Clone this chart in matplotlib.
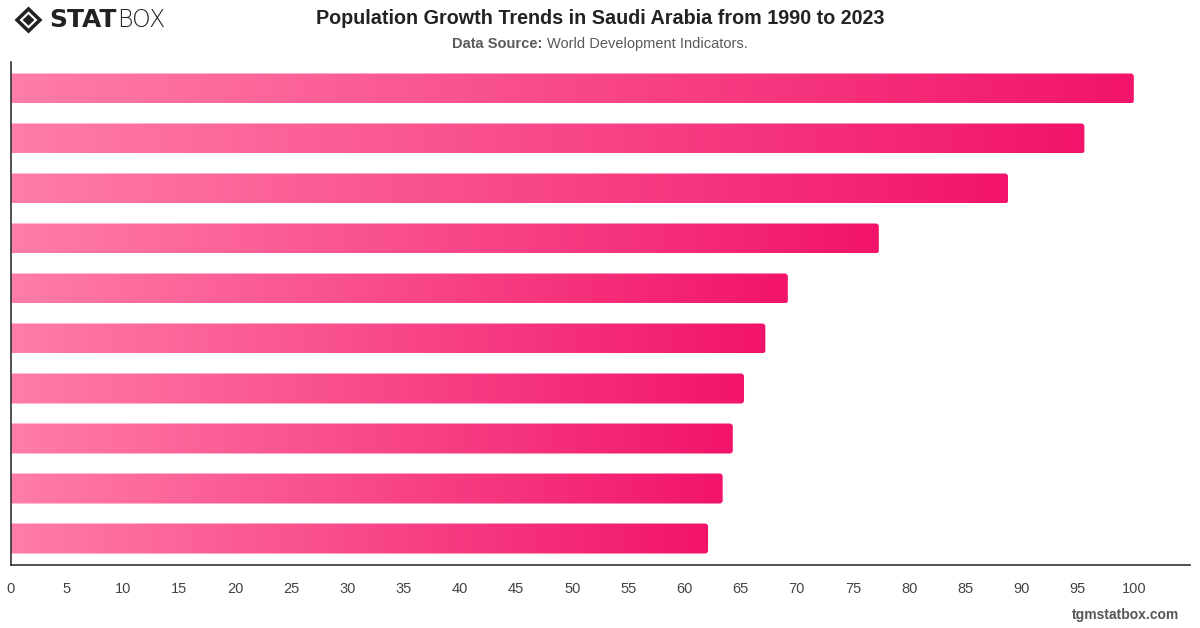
import numpy as np
import matplotlib
matplotlib.use("Agg")
import matplotlib.pyplot as plt
from matplotlib.colors import LinearSegmentedColormap
from matplotlib.patches import FancyBboxPatch, Polygon

# ---- data ----
categories = ["2023", "2022", "2021", "2020", "2019", "2018", "2017", "2016", "2015", "2014"]
values = [100.0, 95.6, 88.8, 77.3, 69.2, 67.2, 65.3, 64.3, 63.4, 62.1]
xticks = list(range(0, 101, 5))

title = "Population Growth Trends in Saudi Arabia from 1990 to 2023"

plt.rcParams['font.family'] = ['Liberation Sans', 'DejaVu Sans']

fig = plt.figure(figsize=(12, 6.28), dpi=100)
ax = fig.add_axes([0.00875, 0.1003, 0.9829, 0.801])

cmap = LinearSegmentedColormap.from_list("pk", ["#FF7DA9", "#F2146A"])
grad = np.linspace(0, 1, 256).reshape(1, -1)

ypos = np.arange(len(values))
bars = ax.barh(ypos, values, height=0.6, color="none", edgecolor="none")

ax.set_xlim(0, 105)
ax.set_ylim(len(values) - 0.5 + 0.03, -0.5 - 0.03)

px_x = 1179.5 / 105.0
px_y = 503.0 / 10.06
for b in bars:
    x0, y0 = b.get_x(), b.get_y()
    w, h = b.get_width(), b.get_height()
    r = 3.0 / px_x
    patch = FancyBboxPatch((x0 - r, y0), w + r, h,
                           boxstyle=f"round,pad=0,rounding_size={r}",
                           mutation_aspect=px_x / px_y,
                           facecolor="none", edgecolor="none")
    ax.add_patch(patch)
    im = ax.imshow(grad, cmap=cmap, aspect="auto",
                   extent=[x0, x0 + w, y0 + h, y0], zorder=2)
    im.set_clip_path(patch)

ax.set_xlim(0, 105)
ax.set_ylim(len(values) - 0.5 + 0.03, -0.5 - 0.03)

ax.set_xticks(xticks)
ax.set_xticklabels([str(t) for t in xticks])
ax.set_yticks([])
ax.tick_params(axis="x", length=0, pad=12, labelsize=10.5, labelcolor="#444444")
for s in ["top", "right"]:
    ax.spines[s].set_visible(False)
for s in ["left", "bottom"]:
    ax.spines[s].set_color("#333333")
    ax.spines[s].set_linewidth(1.2)

# title & subtitle
fig.text(0.5, 0.970, title, ha="center", va="center", fontsize=14.2,
         fontweight="bold", color="#222222")
sub_y = 1 - 44 / 628
t1 = fig.text(0, sub_y, "Data Source:", ha="left", va="center",
              fontsize=10.5, fontweight="bold", color="#5a5a5a")
t2 = fig.text(0, sub_y, "World Development Indicators.", ha="left", va="center",
              fontsize=10.5, color="#5a5a5a")
fig.canvas.draw()
w1 = t1.get_window_extent().width
w2 = t2.get_window_extent().width
gap = 4
total = w1 + gap + w2
start = 600 - total / 2
t1.set_x(start / 1200)
t2.set_x((start + w1 + gap) / 1200)

# watermark
fig.text(0.983, 0.02, "tgmstatbox.com", ha="right", va="center", fontsize=10,
         fontweight="bold", color="#555555")

# logo
lx, ly = 28.5 / 1200, 1 - 20 / 628
sx, sy = 14 / 1200, 13.5 / 628
outer = Polygon([(lx - sx, ly), (lx, ly + sy), (lx + sx, ly), (lx, ly - sy)],
                closed=True, transform=fig.transFigure, facecolor="#222222",
                edgecolor="none")
fig.add_artist(outer)
k = 0.64
inner = Polygon([(lx - sx * k, ly), (lx, ly + sy * k), (lx + sx * k, ly), (lx, ly - sy * k)],
                closed=True, transform=fig.transFigure, facecolor="white",
                edgecolor="none")
fig.add_artist(inner)
k2 = 0.42
inner2 = Polygon([(lx - sx * k2, ly), (lx, ly + sy * k2), (lx + sx * k2, ly), (lx, ly - sy * k2)],
                 closed=True, transform=fig.transFigure, facecolor="#222222",
                 edgecolor="none")
fig.add_artist(inner2)
ts = fig.text(49 / 1200, ly, "STAT", ha="left", va="center", fontsize=18,
              fontweight="heavy", color="#222222", family=["DejaVu Sans"])
fig.canvas.draw()
bb = ts.get_window_extent()
fig.text(bb.x1 / 1200 + 0.0005, ly, "BOX", ha="left", va="center", fontsize=17,
         fontweight="light", color="#222222", family=["DejaVu Sans"])

fig.savefig("out.png", dpi=100, facecolor="white")
